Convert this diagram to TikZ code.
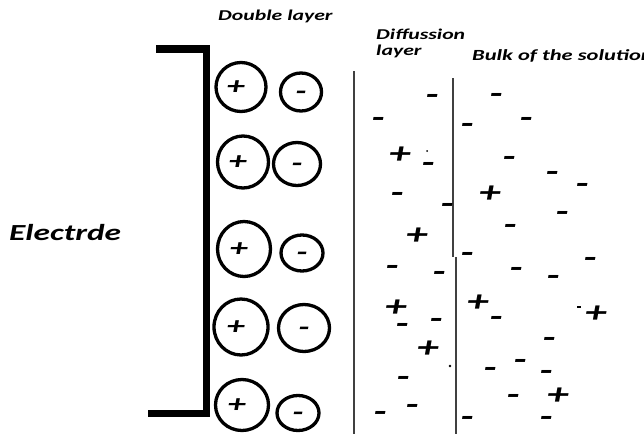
\documentclass[tikz,border=0pt]{standalone}
\usepackage{graphicx}
\usepackage{fontspec}
\usetikzlibrary{shapes.geometric}
% Calibri-like labels, widened as in a paint program
\newfontfamily\lblfont[FakeStretch=1.45]{Carlito}

\tikzset{
  lbl/.style={inner sep=0, anchor=base west,
    font=\lblfont\bfseries\itshape\fontsize{15}{18}\selectfont},
  bigl/.style={inner sep=0, anchor=base west,
    font=\lblfont\bfseries\itshape\fontsize{23}{26}\selectfont},
  ion/.style={inner sep=0, anchor=base, yshift=-9pt,
    font=\lblfont\bfseries\itshape\fontsize{30}{30}\selectfont},
  inion/.style={inner sep=0, anchor=base, yshift=-7.5pt,
    font=\lblfont\bfseries\itshape\fontsize{25}{25}\selectfont},
  ring/.style={draw, ellipse, line width=3.3pt, inner sep=0},
  boundary/.style={draw=black!75, line width=1.8pt},
  electrode/.style={line width=7pt, line join=miter},
}

\begin{document}
\begin{tikzpicture}[x=1pt, y=-1pt]
\useasboundingbox (0,0) rectangle (644,436);

% electrode bracket
\draw[electrode] (156,49) -| (206,413) -- (148,413);
\node[bigl] (electrode) at (9,240) {Electrde};

% headings
\node[lbl] (dl) at (218,21) {Double layer};
\node[lbl] (diff1) at (376,40) {Diffussion};
\node[lbl] (diff2) at (376,56) {layer};
\node[lbl, font=\lblfont\bfseries\itshape\fontsize{15.5}{18}\selectfont]
  (bulk) at (472,60) {Bulk of the solution};

% compact double layer: cation / anion pairs
\foreach \px/\py/\pw/\ph/\nx/\ny/\nw/\nh [count=\i] in {
  241/87/50/49/301/92/41/38,
  243/162/51/52/297/164/47/43,
  244/249/53/55/302/253/42/36,
  241/327/54/56/304/328/51/47,
  242/405/53/51/298/413/42/35} {
  \node[ring, minimum width=\pw pt, minimum height=\ph pt] (p\i) at (\px,\py) {};
  \node[inion] (ps\i) at ([xshift=-5pt]p\i.center) {+};
  \node[ring, minimum width=\nw pt, minimum height=\nh pt] (n\i) at (\nx,\ny) {};
  \node[inion] (ns\i) at (n\i.center) {-};
}

% layer boundaries
\draw[boundary] (354,71) -- (354,434);
\draw[boundary] (453,78) -- (453,257);
\draw[boundary] (456,257) -- (456,434);

% diffusion layer ions
\foreach \x/\y [count=\i] in {432/95, 378/118, 428/163, 397/193, 447/204,
  392/266, 439/272, 402/324, 436/319, 403/377, 412/405, 380/412}
  \node[ion] (dm\i) at (\x,\y) {-};
\foreach \x/\y [count=\i] in {400/154, 417/235, 396/307, 428/348}
  \node[ion] (dp\i) at (\x,\y) {+};
\fill (427,151) circle (1pt);
\fill (450,366) circle (1.3pt);

% bulk solution ions
\foreach \x/\y [count=\i] in {496/94, 467/124, 526/118, 509/157, 552/172,
  582/184, 562/212, 510/225, 467/253, 590/258, 516/268, 553/276, 496/317,
  549/338, 520/360, 490/368, 546/371, 513/395, 467/417, 546/417}
  \node[ion] (bm\i) at (\x,\y) {-};
\foreach \x/\y [count=\i] in {490/193, 478/302, 596/313, 558/395}
  \node[ion] (bp\i) at (\x,\y) {+};
\fill (577,306) rectangle (581,307.5);
\end{tikzpicture}
\end{document}
